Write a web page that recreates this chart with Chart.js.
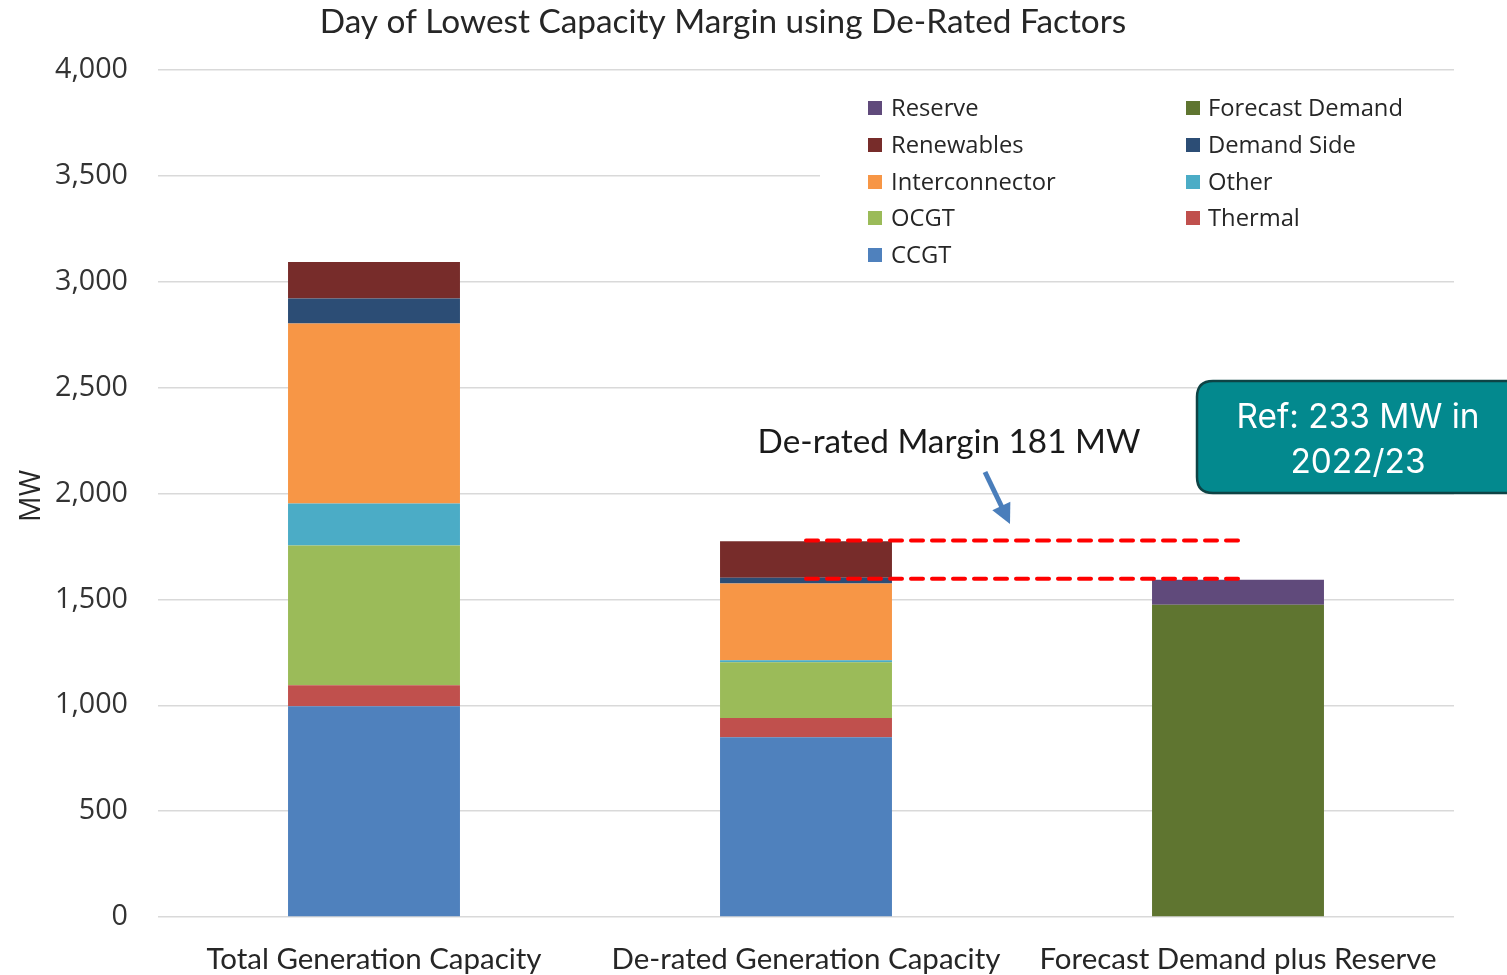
<!DOCTYPE html>
<html><head><meta charset="utf-8">
<script src="https://cdn.jsdelivr.net/npm/chart.js@4.4.1/dist/chart.umd.min.js"></script>
<style>html,body{margin:0;padding:0;background:#fff;overflow:hidden}#wrap{width:1507px;height:975px;position:relative}</style>
</head><body><div id="wrap"><canvas id="c" width="1507" height="975"></canvas></div>
<script>
// ---- data ----
const categories = ['Total Generation Capacity', 'De-rated Generation Capacity', 'Forecast Demand plus Reserve'];
const ccgt           = [995, 849, null];
const thermal        = [99, 91, null];
const ocgt           = [661, 263, null];
const other          = [198, 9, null];
const interconnector = [850, 363, null];
const demandSide     = [118, 27, null];
const renewables     = [172, 172, null];
const forecastDemand = [null, null, 1475];
const reserve        = [null, null, 118];
const marginUpper    = [null, 1778, 1778];
const marginLower    = [null, 1597, 1597];
const yTickValues    = [0, 500, 1000, 1500, 2000, 2500, 3000, 3500, 4000];
const titleText = 'Day of Lowest Capacity Margin using De-Rated Factors';
const yTitle = 'MW';
const marginNote = 'De-rated Margin 181 MW';
const refNote = ['Ref: 233 MW in', '2022/23'];
const legendCol1 = ['Reserve', 'Renewables', 'Interconnector', 'OCGT', 'CCGT'];
const legendCol2 = ['Forecast Demand', 'Demand Side', 'Other', 'Thermal'];

// ---- styles ----
const COLORS = {
  'CCGT': '#4F81BD', 'Thermal': '#C0504D', 'OCGT': '#9BBB59', 'Other': '#4BACC6',
  'Interconnector': '#F79646', 'Demand Side': '#2C4D75', 'Renewables': '#772C2A',
  'Forecast Demand': '#5F7530', 'Reserve': '#604A7B'
};
const mctx = document.createElement('canvas').getContext('2d');
function fit(text, family, target) {
  mctx.font = '100px ' + family;
  return 100 * target / mctx.measureText(text).width;
}
const F_TITLE = '"Lato", sans-serif';
const F_TICK = '"Open Sans", sans-serif';
const F_XLAB = '"Lato", sans-serif';
const F_LEG = '"Open Sans", sans-serif';
const F_NOTE = '"Lato", sans-serif';
const F_REF = '"Inter", sans-serif';
const sTitle = fit(titleText, F_TITLE, 807);
const sTick = fit('4,000', F_TICK, 73);
const sX = fit('De-rated Generation Capacity', F_XLAB, 389);
const sLeg = fit('Forecast Demand', F_LEG, 195);
const sNote = fit(marginNote, F_NOTE, 383);
const sRef = fit(refNote[0], F_REF, 243);
const sMW = fit(yTitle, F_TICK, 52);

function bar(label, data) {
  return { type: 'bar', label, data, backgroundColor: COLORS[label], borderWidth: 0, stack: 'main', order: 1 };
}
function dash(label, data) {
  return { type: 'line', label, data, borderColor: '#FF0000', borderWidth: 4, borderDash: [12, 9],
    borderCapStyle: 'round', pointRadius: 0, fill: false, stack: label, order: 0, tension: 0 };
}
const datasets = [
  bar('CCGT', ccgt), bar('Thermal', thermal), bar('OCGT', ocgt), bar('Other', other),
  bar('Interconnector', interconnector), bar('Demand Side', demandSide), bar('Renewables', renewables),
  bar('Forecast Demand', forecastDemand), bar('Reserve', reserve),
  dash('marginUpper', marginUpper), dash('marginLower', marginLower)
];

const deco = {
  id: 'deco',
  beforeDatasetsDraw(chart) {
    const c = chart.ctx;
    c.save(); c.fillStyle = '#fff'; c.fillRect(820, 86, 640, 186); c.restore();
  },
  afterDraw(chart) {
    const c = chart.ctx;
    c.save();
    // title
    c.fillStyle = '#262626'; c.textAlign = 'center'; c.textBaseline = 'middle';
    c.font = sTitle + 'px ' + F_TITLE;
    c.fillText(titleText, 723, 22);
    // y title
    c.save(); c.translate(32, 496); c.rotate(-Math.PI / 2);
    c.font = sMW + 'px ' + F_TICK; c.fillStyle = '#262626';
    c.fillText(yTitle, 0, 0); c.restore();
    // legend
    c.font = sLeg + 'px ' + F_LEG; c.textAlign = 'left'; c.textBaseline = 'middle';
    const rowY = [108, 145, 182, 218, 255];
    legendCol1.forEach((l, i) => {
      c.fillStyle = COLORS[l]; c.fillRect(868, rowY[i] - 7, 14, 14);
      c.fillStyle = '#262626'; c.fillText(l, 891, rowY[i] + 1);
    });
    legendCol2.forEach((l, i) => {
      c.fillStyle = COLORS[l]; c.fillRect(1186, rowY[i] - 7, 14, 14);
      c.fillStyle = '#262626'; c.fillText(l, 1208, rowY[i] + 1);
    });
    // margin note
    c.font = sNote + 'px ' + F_NOTE; c.fillStyle = '#1a1a1a'; c.textAlign = 'center';
    c.fillText(marginNote, 949, 442);
    // arrow
    const x0 = 985, y0 = 472, x1 = 1010, y1 = 524;
    const dx = x1 - x0, dy = y1 - y0, L = Math.hypot(dx, dy), ux = dx / L, uy = dy / L;
    const hl = 20, hw = 10;
    const bx = x1 - ux * hl, by = y1 - uy * hl;
    c.strokeStyle = '#4A7EBB'; c.lineWidth = 5; c.lineCap = 'butt';
    c.beginPath(); c.moveTo(x0, y0); c.lineTo(bx + ux * 2, by + uy * 2); c.stroke();
    c.fillStyle = '#4A7EBB';
    c.beginPath(); c.moveTo(x1, y1); c.lineTo(bx - uy * hw, by + ux * hw); c.lineTo(bx + uy * hw, by - ux * hw); c.closePath(); c.fill();
    // ref box
    const rx = 1197, ry = 381, rw = 330, rh = 112, r = 16;
    c.beginPath();
    c.moveTo(rx + r, ry); c.lineTo(rx + rw - r, ry); c.quadraticCurveTo(rx + rw, ry, rx + rw, ry + r);
    c.lineTo(rx + rw, ry + rh - r); c.quadraticCurveTo(rx + rw, ry + rh, rx + rw - r, ry + rh);
    c.lineTo(rx + r, ry + rh); c.quadraticCurveTo(rx, ry + rh, rx, ry + rh - r);
    c.lineTo(rx, ry + r); c.quadraticCurveTo(rx, ry, rx + r, ry); c.closePath();
    c.fillStyle = '#03898E'; c.fill();
    c.strokeStyle = '#0E4345'; c.lineWidth = 2.5; c.stroke();
    c.fillStyle = '#ffffff'; c.font = sRef + 'px ' + F_REF; c.textAlign = 'center';
    c.fillText(refNote[0], 1358, 418);
    c.fillText(refNote[1], 1358, 463);
    c.restore();
  }
};

new Chart(document.getElementById('c'), {
  data: { labels: categories, datasets },
  options: {
    responsive: false, animation: false, devicePixelRatio: 1,
    layout: { padding: { top: 70, right: 53, left: 0, bottom: 0 } },
    plugins: { legend: { display: false }, title: { display: false }, tooltip: { enabled: false } },
    datasets: { bar: { barPercentage: 0.398, categoryPercentage: 1.0 } },
    scales: {
      x: {
        stacked: true,
        grid: { display: false }, border: { display: false },
        ticks: { font: { family: F_XLAB, size: sX }, color: '#262626', padding: 17, maxRotation: 0, autoSkip: false },
        afterFit(s) { s.height = 58; }
      },
      y: {
        stacked: true, min: 0, max: 4000,
        afterBuildTicks(s) { s.ticks = yTickValues.map(v => ({ value: v })); },
        ticks: { font: { family: F_TICK, size: sTick }, color: '#333333', padding: 30,
          callback: v => v.toLocaleString('en-US') },
        grid: { color: '#D9D9D9', lineWidth: 1.5, drawTicks: false },
        border: { display: false },
        afterFit(s) { s.width = 158; }
      }
    }
  },
  plugins: [deco]
});
</script>
</body></html>
